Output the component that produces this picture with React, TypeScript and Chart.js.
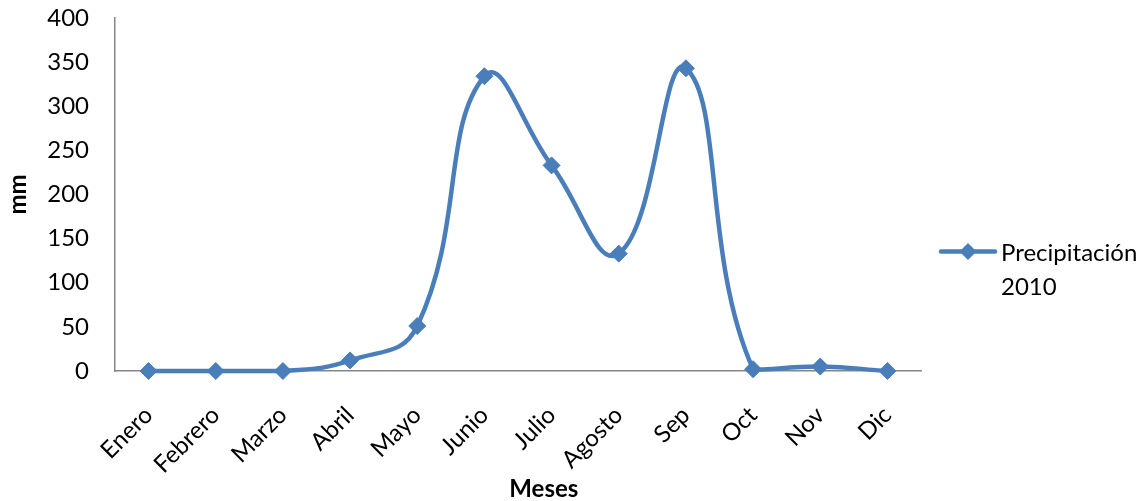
import React, { useEffect, useRef } from "react";
import { Chart, registerables } from "chart.js";

Chart.register(...registerables);

const months = ["Enero", "Febrero", "Marzo", "Abril", "Mayo", "Junio", "Julio", "Agosto", "Sep", "Oct", "Nov", "Dic"];
const precipitacion2010 = [0, 0, 0, 12, 51, 334, 233, 133, 343, 2, 5, 0];
const seriesLabelLines = ["Precipitación", "2010"];
const yMin = 0;
const yMax = 400;
const yStep = 50;
const xTitle = "Meses";
const yTitle = "mm";

const FONT = 'Lato, "Open Sans", "DejaVu Sans", sans-serif';
const BLUE = "#4A7EBB";
const AXIS = "#868686";

const overlayPlugin = {
  id: "overlay",
  afterDraw(chart: any) {
    const { ctx, chartArea, height } = chart;
    ctx.save();
    // legend
    const x0 = chartArea.right + 20;
    const y = height / 2 + 1;
    ctx.strokeStyle = BLUE;
    ctx.lineWidth = 4.5;
    ctx.lineCap = "round";
    ctx.beginPath();
    ctx.moveTo(x0, y);
    ctx.lineTo(x0 + 54, y);
    ctx.stroke();
    ctx.fillStyle = BLUE;
    const cx = x0 + 27;
    const r = 8.5;
    ctx.beginPath();
    ctx.moveTo(cx, y - r);
    ctx.lineTo(cx + r, y);
    ctx.lineTo(cx, y + r);
    ctx.lineTo(cx - r, y);
    ctx.closePath();
    ctx.fill();
    ctx.fillStyle = "#000";
    ctx.font = `24px ${FONT}`;
    ctx.textBaseline = "middle";
    ctx.textAlign = "left";
    seriesLabelLines.forEach((t, i) => {
      ctx.fillText(t, x0 + 60, y + 2 + i * 34);
    });
    // x-axis title
    ctx.font = `bold 24px ${FONT}`;
    ctx.textAlign = "center";
    ctx.fillText(xTitle, chartArea.left + (chartArea.right - chartArea.left) * 0.532, height - 12);
    ctx.restore();
  },
};

export default function App() {
  const ref = useRef<HTMLCanvasElement | null>(null);
  useEffect(() => {
    document.body.style.margin = "0";
    const chart = new Chart(ref.current as HTMLCanvasElement, {
      type: "line",
      data: {
        labels: months,
        datasets: [
          {
            label: seriesLabelLines.join(" "),
            data: precipitacion2010,
            borderColor: BLUE,
            backgroundColor: BLUE,
            borderWidth: 4.5,
            tension: 0.45,
            pointStyle: "rectRot",
            pointRadius: 8.5,
            pointHoverRadius: 8.5,
            pointBackgroundColor: BLUE,
            pointBorderColor: BLUE,
            pointBorderWidth: 1,
            clip: 10,
          },
        ],
      },
      options: {
        animation: false,
        responsive: false,
        maintainAspectRatio: false,
        layout: { padding: { top: 18, right: 224, bottom: 0, left: 0 } },
        plugins: {
          legend: { display: false },
          tooltip: { enabled: false },
        },
        scales: {
          x: {
            offset: true,
            grid: { display: false, drawTicks: false },
            border: { display: true, color: AXIS, width: 1.5 },
            afterFit: (s: any) => {
              s.height = 130;
              s.paddingLeft = 0;
              s.paddingRight = 0;
            },
            ticks: {
              autoSkip: false,
              minRotation: 45,
              maxRotation: 45,
              padding: 30,
              color: "#000",
              font: { family: FONT, size: 24 },
            },
          },
          y: {
            min: yMin,
            max: yMax,
            grid: { display: false, drawTicks: false },
            border: { display: true, color: AXIS, width: 1.5 },
            afterFit: (s: any) => {
              s.width = 115;
              s.paddingTop = 0;
              s.paddingBottom = 0;
            },
            ticks: {
              stepSize: yStep,
              padding: 26,
              color: "#000",
              font: { family: FONT, size: 24 },
            },
            title: {
              display: true,
              text: yTitle,
              color: "#000",
              font: { family: FONT, size: 24, weight: "bold" },
              padding: { top: 4, bottom: 10 },
            },
          },
        },
      },
      plugins: [overlayPlugin],
    } as any);
    return () => chart.destroy();
  }, []);
  return (
    <div style={{ width: 1145, height: 501 }}>
      <canvas ref={ref} width={1145} height={501} style={{ width: 1145, height: 501 }} />
    </div>
  );
}
